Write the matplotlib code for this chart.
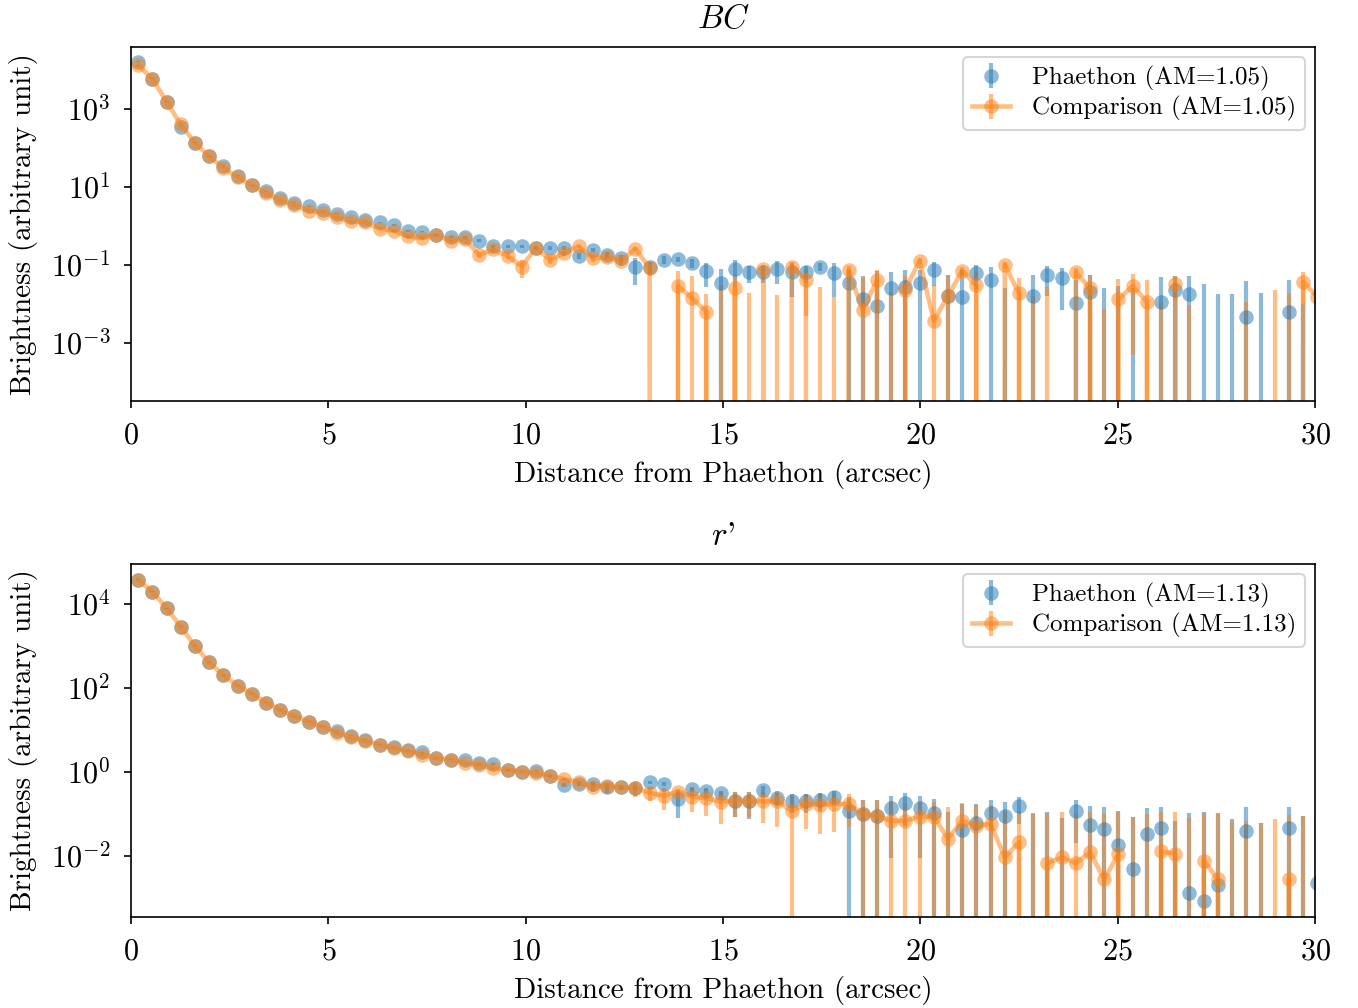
import numpy as np
import matplotlib
matplotlib.use("Agg")
import matplotlib.pyplot as plt
from matplotlib.ticker import FixedLocator, NullLocator, LogFormatterSciNotation

plt.rcParams.update({
    "font.family": "serif",
    "font.serif": ["cmr10"],
    "mathtext.fontset": "cm",
    "axes.formatter.use_mathtext": True,
    "axes.unicode_minus": False,
    "font.size": 13,
})

# ---------------- data ----------------
PIXSCALE = 0.36  # arcsec per pixel (annulus width)
N = 84
dist = (np.arange(N) + 0.5) * PIXSCALE

# BC band
bc_phae = [16200, 6000, 1540, 350, 136, 61, 35, 19.5, 11, 7.8,
           5.2, 3.9, 3.2, 2.5, 2.06, 1.66, 1.39, 1.23, 1.07, 0.75,
           0.72, 0.59, 0.51, 0.53, 0.42, 0.30, 0.30, 0.30, 0.27, 0.27,
           0.27, 0.17, 0.245, 0.18, 0.148, 0.091, 0.09, 0.135, 0.14, 0.115,
           0.071, 0.035, 0.081, 0.065, 0.065, 0.078, 0.065, 0.065, 0.091, 0.062,
           0.035, 0.013, 0.0089, 0.025, 0.0275, 0.035, 0.074, 0.016, 0.0155, 0.062,
           0.041, -0.01, -0.03, 0.016, 0.055, 0.046, 0.0107, 0.0205, -0.01, -0.01,
           -0.01, -0.03, 0.0115, 0.023, 0.0178, -0.01, -0.01, -0.01, 0.0047, -0.01,
           -0.03, 0.0063, -0.01, -0.03]
bc_phae_err = [400, 150, 40, 9, 3.5, 1.5, 0.9, 0.5, 0.3, 0.2,
               0.14, 0.1, 0.08, 0.07, 0.06, 0.05, 0.05, 0.05, 0.05, 0.04,
               0.04, 0.03, 0.03, 0.03, 0.03, 0.03, 0.03, 0.03, 0.03, 0.03,
               0.03, 0.03, 0.03, 0.03, 0.03, 0.06, 0.03, 0.03, 0.02, 0.03,
               0.044, 0.046, 0.054, 0.03, 0.03, 0.045, 0.05, 0.03, 0.02, 0.047,
               0.04, 0.04, 0.06, 0.04, 0.047, 0.039, 0.045, 0.04, 0.06, 0.038,
               0.045, 0.035, 0.01, 0.04, 0.039, 0.039, 0.03, 0.035, 0.036, 0.038,
               0.035, 0.01, 0.037, 0.03, 0.034, 0.042, 0.028, 0.028, 0.035, 0.029,
               0.01, 0.036, 0.02, 0.01]
bc_comp = [13200, 6000, 1540, 403, 136, 61, 31, 17.8, 11, 7.0,
           4.5, 3.4, 2.45, 2.2, 1.66, 1.31, 1.23, 0.86, 0.75, 0.54,
           0.49, 0.59, 0.41, 0.46, 0.18, 0.25, 0.17, 0.091, 0.27, 0.135,
           0.2, 0.30, 0.148, 0.16, 0.126, 0.26, 0.083, -0.05, 0.029, 0.0138,
           0.0063, -0.01, 0.025, -0.01, 0.078, -0.01, 0.091, 0.041, -0.01, -0.01,
           0.074, 0.0069, 0.04, -0.01, 0.0234, 0.128, 0.0037, 0.016, 0.071, 0.030,
           -0.05, 0.1, 0.0186, -0.01, -0.01, -0.05, 0.065, 0.025, -0.01, 0.013,
           0.029, 0.0115, -0.01, 0.032, -0.01, -0.05, -0.05, -0.05, -0.01, -0.05,
           -0.01, -0.01, 0.037, 0.015]
bc_comp_err = [300, 150, 40, 10, 3.5, 1.5, 0.8, 0.45, 0.3, 0.18,
               0.12, 0.09, 0.07, 0.06, 0.05, 0.04, 0.04, 0.04, 0.04, 0.04,
               0.04, 0.04, 0.03, 0.03, 0.03, 0.03, 0.03, 0.044, 0.03, 0.03,
               0.03, 0.03, 0.03, 0.03, 0.03, 0.03, 0.03, 0.01, 0.039, 0.038,
               0.012, 0.04, 0.03, 0.0286, 0.02, 0.027, 0.03, 0.036, 0.0375, 0.025,
               0.02, 0.04, 0.034, 0.03, 0.03, 0.02, 0.027, 0.04, 0.02, 0.035,
               0.01, 0.02, 0.027, 0.026, 0.0375, 0.01, 0.02, 0.031, 0.0176, 0.03,
               0.0285, 0.03, 0.021, 0.02, 0.0195, 0.01, 0.01, 0.01, 0.0215, 0.01,
               0.0325, 0.0286, 0.027, 0.01]

# r' band
r_phae = [37200, 19700, 7900, 2880, 1000, 410, 200, 114, 72, 45,
          30, 21.5, 15.8, 12, 9.6, 7.3, 5.9, 4.5, 4.0, 3.34,
          2.94, 2.15, 1.97, 1.93, 1.61, 1.55, 1.12, 1.02, 1.08, 0.82,
          0.49, 0.52, 0.52, 0.43, 0.43, 0.42, 0.57, 0.52, 0.23, 0.39,
          0.36, 0.31, 0.207, 0.207, 0.37, 0.24, 0.207, 0.207, 0.215, 0.26,
          0.12, 0.1, 0.091, 0.139, 0.183, 0.139, 0.104, -0.02, 0.042, 0.06,
          0.106, 0.088, 0.158, -0.02, -0.02, -0.02, 0.116, 0.055, 0.044, 0.0186,
          0.0049, 0.033, 0.047, -0.02, 0.0013, 0.00087, 0.0021, -0.02, 0.04, -0.02,
          -0.1, 0.047, -0.02, 0.0023]
r_phae_err = [1000, 500, 200, 70, 25, 10, 5, 3, 2, 1.2,
              0.8, 0.6, 0.4, 0.3, 0.25, 0.2, 0.15, 0.12, 0.1, 0.09,
              0.08, 0.06, 0.05, 0.05, 0.05, 0.05, 0.04, 0.04, 0.04, 0.04,
              0.05, 0.05, 0.05, 0.12, 0.05, 0.05, 0.05, 0.05, 0.15, 0.05,
              0.05, 0.05, 0.12, 0.13, 0.1, 0.08, 0.1, 0.1, 0.1, 0.1,
              0.13, 0.12, 0.12, 0.13, 0.13, 0.13, 0.12, 0.13, 0.13, 0.11,
              0.11, 0.11, 0.1, 0.125, 0.13, 0.1, 0.095, 0.1, 0.1, 0.1,
              0.082, 0.106, 0.1, 0.089, 0.105, 0.11, 0.104, 0.096, 0.105, 0.08,
              0.02, 0.1, 0.11, 0.1]
r_comp = [37200, 19700, 7900, 2880, 1000, 410, 200, 114, 72, 45,
          30, 21.5, 15.8, 12, 8.5, 6.7, 5.4, 4.5, 3.66, 3.1,
          2.59, 2.15, 1.97, 1.61, 1.47, 1.22, 1.12, 1.02, 0.93, 0.82,
          0.68, 0.57, 0.45, 0.47, 0.43, 0.42, 0.32, 0.27, 0.34, 0.26,
          0.24, 0.197, 0.207, 0.207, 0.2, 0.2, 0.12, 0.173, 0.168, 0.173,
          0.173, 0.1, 0.091, 0.069, 0.069, 0.087, 0.087, 0.026, 0.069, 0.052,
          0.058, 0.0093, 0.0214, -0.02, 0.0068, 0.0093, 0.0068, 0.0123, 0.0028, 0.0113,
          -0.02, -0.02, 0.0129, 0.0115, -0.02, 0.0078, 0.0028, -0.02, -0.02, -0.02,
          -0.02, 0.0028, -0.02, -0.02]
r_comp_err = [1000, 500, 200, 70, 25, 10, 5, 3, 2, 1.2,
              0.8, 0.6, 0.4, 0.3, 0.25, 0.2, 0.15, 0.12, 0.1, 0.09,
              0.08, 0.06, 0.05, 0.05, 0.05, 0.05, 0.04, 0.04, 0.04, 0.04,
              0.03, 0.03, 0.12, 0.05, 0.05, 0.16, 0.12, 0.145, 0.05, 0.15,
              0.15, 0.14, 0.12, 0.12, 0.14, 0.15, 0.15, 0.13, 0.134, 0.135,
              0.125, 0.12, 0.12, 0.13, 0.11, 0.11, 0.11, 0.12, 0.11, 0.11,
              0.11, 0.11, 0.1, 0.12, 0.1, 0.105, 0.1, 0.1, 0.1, 0.1,
              0.105, 0.12, 0.1, 0.1, 0.1, 0.1, 0.1, 0.09, 0.09, 0.08,
              0.096, 0.09, 0.11, 0.1]

panels = [
    dict(title="$BC$", am="1.05", phae=bc_phae, phae_err=bc_phae_err,
         comp=bc_comp, comp_err=bc_comp_err,
         ylim=(10**-4.49, 10**4.59), yticks=[1e-3, 1e-1, 1e1, 1e3]),
    dict(title="$r$'", am="1.13", phae=r_phae, phae_err=r_phae_err,
         comp=r_comp, comp_err=r_comp_err,
         ylim=(10**-3.45, 10**4.95), yticks=[1e-2, 1e0, 1e2, 1e4]),
]

W, H, DPI = 1358, 1008, 150
fig = plt.figure(figsize=(W / DPI, H / DPI), dpi=DPI)
rects = [[131 / W, 1 - 401 / H, (1315 - 131) / W, (401 - 47) / H],
         [131 / W, 1 - 917 / H, (1315 - 131) / W, (917 - 564) / H]]

for rect, p in zip(rects, panels):
    ax = fig.add_axes(rect)
    ax.set_yscale("log")
    ax.errorbar(dist, p["phae"], yerr=p["phae_err"], fmt="o", color="C0",
                alpha=0.5, ms=7, mew=0, elinewidth=2,
                label=f"Phaethon (AM={p['am']})")
    ax.errorbar(dist, p["comp"], yerr=p["comp_err"], fmt="o-", color="C1",
                alpha=0.5, ms=7, mew=0, lw=2.2, elinewidth=2,
                label=f"Comparison (AM={p['am']})")
    ax.set_xlim(0, 30)
    ax.set_ylim(*p["ylim"])
    ax.yaxis.set_major_locator(FixedLocator(p["yticks"]))
    ax.yaxis.set_major_formatter(LogFormatterSciNotation())
    ax.yaxis.set_minor_locator(NullLocator())
    ax.set_xticks([0, 5, 10, 15, 20, 25, 30])
    ax.tick_params(labelsize=14.5, pad=6.5)
    ax.set_xlabel("Distance from Phaethon (arcsec)", fontsize=14, labelpad=5)
    ax.set_ylabel("Brightness (arbitrary unit)", fontsize=14, labelpad=6)
    ax.set_title(p["title"], fontsize=16, pad=9)
    ax.legend(loc="upper right", fontsize=12, labelspacing=0.22,
              borderpad=0.35, handlelength=1.5, handletextpad=0.9,
              borderaxespad=0.4)

fig.savefig("out.png", dpi=DPI)
